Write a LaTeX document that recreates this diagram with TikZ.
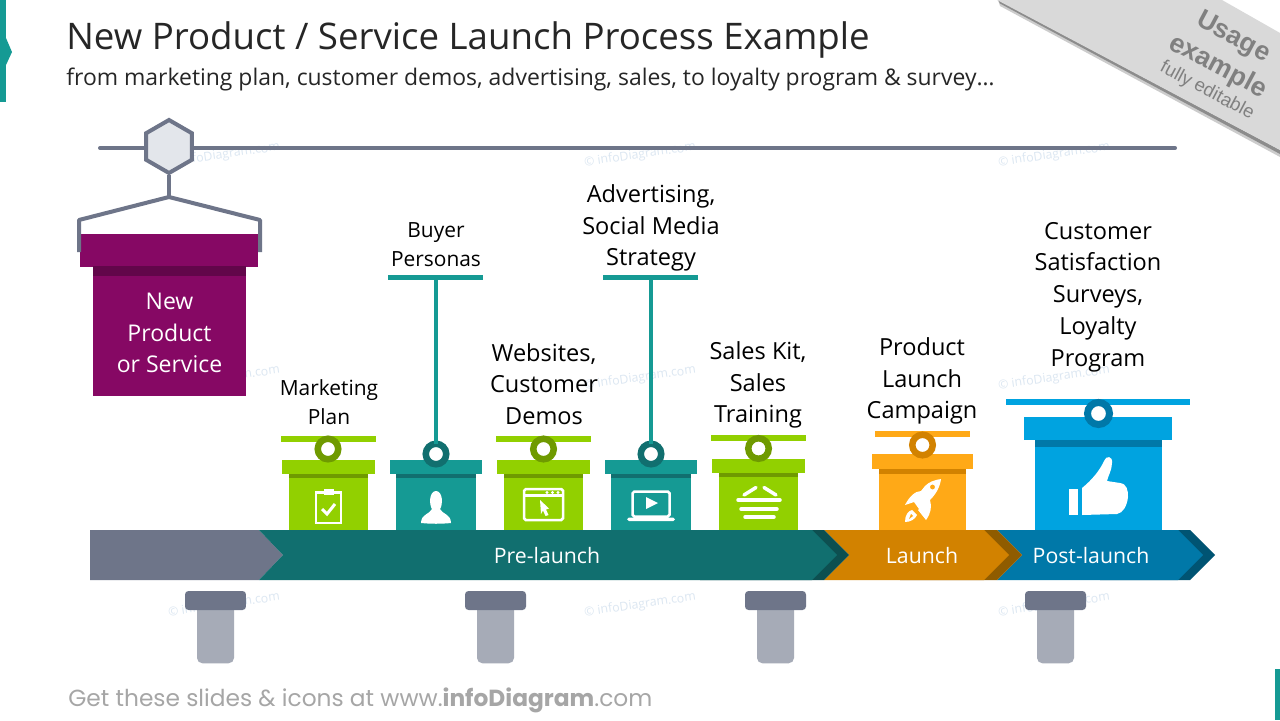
\documentclass[tikz,border=0pt]{standalone}
\usepackage{fontspec}
\usepackage{xcolor}
\usepackage{tikz}
\usetikzlibrary{shapes.geometric}
\setmainfont{Open Sans}
\newfontfamily\footfont{Poppins}
\newfontfamily\tagfont{Liberation Sans}

\definecolor{railgray}{HTML}{6E7589}
\definecolor{hexfill}{HTML}{E3E6EB}
\definecolor{leggray}{HTML}{A6ABB7}
\definecolor{plum}{HTML}{860864}
\definecolor{plumdark}{HTML}{62064A}
\definecolor{lime}{HTML}{92D000}
\definecolor{limedark}{HTML}{6F9A00}
\definecolor{teal}{HTML}{159A94}
\definecolor{tealdark}{HTML}{116F6F}
\definecolor{tealdeep}{HTML}{0D4F50}
\definecolor{amber}{HTML}{FFA917}
\definecolor{amberdark}{HTML}{D28200}
\definecolor{amberdeep}{HTML}{8F5C00}
\definecolor{sky}{HTML}{00A3E0}
\definecolor{skydark}{HTML}{0078A8}
\definecolor{skydeep}{HTML}{005473}
\definecolor{stamp}{HTML}{DCE7F2}

\tikzset{
  box/.style={inner sep=0,outer sep=0,draw=none},
  ring/.style={circle,inner sep=0,outer sep=0,fill=white,minimum size=0.41cm,line width=0.13cm},
  note/.style={align=center,text=black,inner sep=0,font=\fontsize{13.4}{18.1}\selectfont},
  smallnote/.style={align=center,text=black,inner sep=0,font=\fontsize{11.9}{16.4}\selectfont},
  phase/.style={text=white,inner sep=0,font=\fontsize{12.1}{14}\selectfont},
  wmark/.style={text=stamp,rotate=8,inner sep=0,font=\fontsize{7}{8}\selectfont},
  legcap/.style={box,fill=railgray,rounded corners=2pt,minimum width=1.22cm,minimum height=0.38cm},
  leg/.style={box,fill=leggray,rounded corners=3pt,minimum width=0.74cm,minimum height=1.19cm},
  icon/.style={draw=white,line width=0.05cm},
  limebar/.style={box,fill=lime,minimum width=1.9cm,minimum height=0.12cm},
  limetop/.style={box,fill=lime,minimum width=1.86cm,minimum height=0.28cm},
  limebody/.style={box,fill=lime,minimum width=1.58cm,minimum height=1.12cm},
  limeband/.style={box,fill=limedark,minimum width=1.58cm,minimum height=0.08cm},
  tealbar/.style={box,fill=teal,minimum width=1.9cm,minimum height=0.11cm},
  tealtop/.style={box,fill=teal,minimum width=1.84cm,minimum height=0.28cm},
  tealbody/.style={box,fill=teal,minimum width=1.6cm,minimum height=1.12cm},
  tealband/.style={box,fill=tealdark,minimum width=1.6cm,minimum height=0.08cm},
  stem/.style={draw=teal,line width=0.08cm},
}

\begin{document}
\begin{tikzpicture}[x=0.02cm,y=-0.02cm]
\useasboundingbox (0,0) rectangle (1280,720);
\fill[white] (0,0) rectangle (1280,720);

% watermarks
\node[wmark] (wm1) at (224,155) {\textcopyright\ infoDiagram.com};
\node[wmark] (wm2) at (640,155) {\textcopyright\ infoDiagram.com};
\node[wmark] (wm3) at (1054,155) {\textcopyright\ infoDiagram.com};
\node[wmark] (wm4) at (224,378) {\textcopyright\ infoDiagram.com};
\node[wmark] (wm5) at (640,378) {\textcopyright\ infoDiagram.com};
\node[wmark] (wm6) at (1054,378) {\textcopyright\ infoDiagram.com};
\node[wmark] (wm7) at (224,605) {\textcopyright\ infoDiagram.com};
\node[wmark] (wm8) at (640,605) {\textcopyright\ infoDiagram.com};
\node[wmark] (wm9) at (1054,605) {\textcopyright\ infoDiagram.com};

% side marks
\fill[teal] (0,0) rectangle (6,102);
\fill[teal] (6,38) -- (12,52) -- (6,65) -- cycle;
\fill[teal] (1275,669) rectangle (1280,720);

% titles
\node[anchor=base west,inner sep=0,text=black!85,font=\fontsize{20.85}{24}\selectfont] (title) at (66,49) {New Product / Service Launch Process Example};
\node[anchor=base west,inner sep=0,text=black!85,font=\fontsize{13.05}{16}\selectfont] (subtitle) at (66,85) {from marketing plan, customer demos, advertising, sales, to loyalty program \& survey\dots};

% ribbon
\fill[black!20] (1000,6) -- (1280,157) -- (1280,150) -- (998,0) -- cycle;
\fill[black!45] (1000,3.5) -- (1280,154) -- (1280,150) -- (998,0) -- cycle;
\fill[black!15] (997,0) -- (1222,0) -- (1280,33) -- (1280,150) -- cycle;
\node[rotate=-28,text=black!50,inner sep=0,font=\tagfont\bfseries\fontsize{15}{18}\selectfont] (usage) at (1233,38) {Usage};
\node[rotate=-28,text=black!50,inner sep=0,font=\tagfont\bfseries\fontsize{15.2}{18}\selectfont] (usage2) at (1218,67) {example};
\node[rotate=-28,text=black!50,inner sep=0,font=\tagfont\fontsize{10.6}{13}\selectfont] (usage3) at (1207,91) {fully editable};

% rail and hanger
\coordinate (railL) at (100,148);
\coordinate (railR) at (1175,148);
\coordinate (apex) at (169,197);
\coordinate (armL) at (79,220);
\coordinate (armR) at (260,220);
\coordinate (endL) at (79,252);
\coordinate (endR) at (260,252);
\draw[railgray,line width=0.08cm,line cap=round] (railL) -- (railR);
\node[box,fill=plum,minimum width=3.56cm,minimum height=0.66cm] (ntop) at (169,250.5) {};
\node[box,fill=plum,minimum width=3.06cm,minimum height=2.6cm] (nbody) at (169.5,331) {};
\node[box,fill=plumdark,minimum width=3.06cm,minimum height=0.2cm] (nband) at (169.5,271) {};
\node[align=center,text=white,inner sep=0,font=\fontsize{13.1}{18.1}\selectfont] (ntext) at (169.5,333) {New\\Product\\or Service};
\draw[railgray,line width=0.08cm,line join=round] (endL) -- (armL) -- (apex) -- (armR) -- (endR);
\node[regular polygon,regular polygon sides=6,shape border rotate=30,draw=railgray,fill=hexfill,line width=0.08cm,minimum size=1.06cm,inner sep=0] (hex) at (169,146.5) {};
\draw[railgray,line width=0.08cm] (hex) -- (apex);

% arrow band
\fill[railgray] (90,530) -- (259,530) -- (283,555) -- (259,580) -- (90,580) -- cycle;
\fill[skydeep] (1100,530) -- (1190,530) -- (1215,555) -- (1190,580) -- (1100,580) -- cycle;
\fill[skydark] (997,530) -- (1178,530) -- (1203,555) -- (1178,580) -- (997,580) -- (1022,555) -- cycle;
\fill[amberdeep] (900,530) -- (997,530) -- (1022,555) -- (997,580) -- (900,580) -- cycle;
\fill[amberdark] (824,530) -- (984,530) -- (1009,555) -- (984,580) -- (824,580) -- (849,555) -- cycle;
\fill[tealdeep] (700,530) -- (824,530) -- (849,555) -- (824,580) -- (700,580) -- cycle;
\fill[tealdark] (259,530) -- (812,530) -- (837,555) -- (812,580) -- (259,580) -- (283,555) -- cycle;
\node[phase] (pre) at (547,556) {Pre-launch};
\node[phase] (launch) at (922,556) {Launch};
\node[phase] (post) at (1091,556) {Post-launch};

% legs
\node[leg] (leg1) at (215.5,633.5) {};
\node[legcap] (cap1) at (215.5,600.5) {};
\node[leg] (leg2) at (495.5,633.5) {};
\node[legcap] (cap2) at (495.5,600.5) {};
\node[leg] (leg3) at (775.5,633.5) {};
\node[legcap] (cap3) at (775.5,600.5) {};
\node[leg] (leg4) at (1055.5,633.5) {};
\node[legcap] (cap4) at (1055.5,600.5) {};

%%% marketing plan
\node[smallnote] (lab1) at (329,402.5) {Marketing\\Plan};
\node[limebar] (bar1) at (328.5,439) {};
\node[limebody] (body1) at (328.5,502) {};
\node[limeband] (band1) at (328.5,476) {};
\node[limetop] (top1) at (328.5,467) {};
\node[ring,draw=limedark] (ring1) at (328,449) {};
\draw[icon] (325,492.5) -- (316,492.5) -- (316,523) -- (341,523) -- (341,492.5) -- (334,492.5);
\fill[white] (324,489) rectangle (334,495);
\draw[icon,line width=0.06cm] (322,509) -- (327,514) -- (335,504);

%%% buyer personas
\node[smallnote] (lab2) at (436,245) {Buyer\\Personas};
\node[tealbar] (bar2) at (435.5,277.5) {};
\node[tealbody] (body2) at (436,502) {};
\node[tealband] (band2) at (436,476) {};
\node[tealtop] (top2) at (436,467) {};
\node[ring,draw=tealdark] (ring2) at (436,454) {};
\draw[stem] (ring2 |- bar2) -- (ring2);
\fill[white] (421,523) .. controls (421,514) and (430,514) .. (432,509) .. controls (429,505) and (429,491) .. (436,491) .. controls (443,491) and (443,505) .. (440,509) .. controls (442,514) and (451,514) .. (451,523) .. controls (441,524) and (431,524) .. (421,523) -- cycle;

%%% websites
\node[note] (lab3) at (544,384) {Websites,\\Customer\\Demos};
\node[limebar] (bar3) at (543.5,439) {};
\node[limebody] (body3) at (543.5,502) {};
\node[limeband] (band3) at (543.5,476) {};
\node[limetop] (top3) at (543.5,467) {};
\node[ring,draw=limedark] (ring3) at (543.5,449) {};
\draw[icon,rounded corners=1pt] (524,489) rectangle (563,520);
\draw[icon] (524,495.5) -- (563,495.5);
\fill[white] (547,492.5) circle (1.7);
\fill[white] (552.5,492.5) circle (1.7);
\fill[white] (558,492.5) circle (1.7);
\fill[white] (540,500) -- (549,508.5) -- (546,509.5) -- (548.5,515) -- (545.5,516) -- (543,510.5) -- (541,514) -- cycle;

%%% advertising
\node[note] (lab4) at (651,228) {Advertising,\\Social Media\\Strategy};
\node[tealbar] (bar4) at (650.5,277.5) {};
\node[tealbody] (body4) at (651,502) {};
\node[tealband] (band4) at (651,476) {};
\node[tealtop] (top4) at (651,467) {};
\node[ring,draw=tealdark] (ring4) at (651,454) {};
\draw[stem] (ring4 |- bar4) -- (ring4);
\draw[icon,rounded corners=1pt] (632.5,491.5) rectangle (669.5,516.5);
\fill[white,rounded corners=1pt] (627,517.5) rectangle (675,521);
\fill[white] (646,497) -- (658,503) -- (646,509) -- cycle;

%%% sales kit
\node[note] (lab5) at (758,385) {Sales Kit,\\Sales\\Training};
\node[limebar] (bar5) at (758.5,438) {};
\node[limebody] (body5) at (758.5,501.5) {};
\node[limeband] (band5) at (758.5,475) {};
\node[limetop] (top5) at (758.5,466) {};
\node[ring,draw=limedark] (ring5) at (758.5,448.5) {};
\draw[icon,line width=0.07cm,line cap=round] (744,495) -- (756,487.5);
\draw[icon,line width=0.07cm,line cap=round] (764,487.5) -- (776,495);
\draw[icon,line width=0.07cm,line cap=round] (738,500) -- (780,500);
\draw[icon,line width=0.07cm,line cap=round] (741,509) -- (777,509);
\draw[icon,line width=0.07cm,line cap=round] (745,517) -- (774,517);

%%% product launch
\node[note] (lab6) at (922,381) {Product\\Launch\\Campaign};
\node[box,fill=amber,minimum width=1.9cm,minimum height=0.12cm] (bar6) at (922.5,434) {};
\node[box,fill=amber,minimum width=1.74cm,minimum height=1.22cm] (body6) at (922.5,499.5) {};
\node[box,fill=amberdark,minimum width=1.74cm,minimum height=0.1cm] (band6) at (922.5,471.5) {};
\node[box,fill=amber,minimum width=2.02cm,minimum height=0.3cm] (top6) at (922.5,461.5) {};
\node[ring,draw=amberdark] (ring6) at (922.5,445) {};
\fill[white] (941,479) .. controls (934,480) and (929,482) .. (925,486) -- (921,491) .. controls (915,491) and (909,497) .. (905,505) -- (914,502) -- (919,509) -- (918,510) -- (926,520) .. controls (931,513) and (932,507) .. (930,500) .. controls (936,494) and (940,487) .. (941,479) -- cycle;
\fill[amber] (932.5,487) circle (2.4);
\fill[white] (905,522) .. controls (905,515) and (908,511) .. (912,510) -- (917,515) .. controls (915,519) and (911,522) .. (905,522) -- cycle;
\fill[amber] (909,519) -- (911,514) -- (913,516) -- cycle;

%%% customer satisfaction
\node[note] (lab7) at (1098,297) {Customer\\Satisfaction\\Surveys,\\Loyalty\\Program};
\node[box,fill=sky,minimum width=3.68cm,minimum height=0.12cm] (bar7) at (1098,402) {};
\node[box,fill=sky,minimum width=2.54cm,minimum height=1.8cm] (body7) at (1098.5,485) {};
\node[box,fill=skydark,minimum width=2.54cm,minimum height=0.14cm] (band7) at (1098.5,443.5) {};
\node[box,fill=sky,minimum width=2.96cm,minimum height=0.46cm] (top7) at (1098,428.5) {};
\node[ring,draw=skydark,minimum size=0.44cm,line width=0.14cm] (ring7) at (1098.5,413.5) {};
\fill[white] (1069,489) rectangle (1078,515);
\fill[white] (1082,515) -- (1082,488) .. controls (1092,480) and (1100,470) .. (1104,461) .. controls (1106,455) and (1113,456) .. (1112,463) .. controls (1112,470) and (1108,476) .. (1107,481) -- (1120,483) .. controls (1127,484) and (1128,490) .. (1128,497) .. controls (1127,506) and (1123,513) .. (1117,514) -- cycle;

% footer
\node[anchor=base west,inner sep=0,text=black!35,font=\footfont\fontsize{13.26}{15}\selectfont] (foot) at (68,706) {Get these slides \& icons at www.\textbf{infoDiagram}.com};
\end{tikzpicture}
\end{document}
